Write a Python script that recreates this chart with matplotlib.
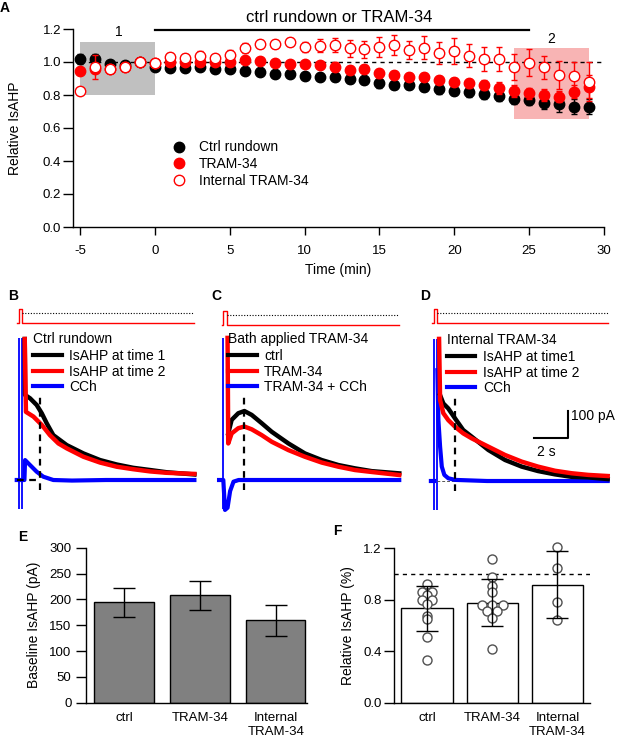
import numpy as np
import matplotlib.pyplot as plt
from matplotlib.lines import Line2D
from matplotlib.patches import Rectangle

plt.rcParams['font.family'] = ['Liberation Sans', 'DejaVu Sans']
plt.rcParams['axes.unicode_minus'] = False
plt.rcParams['axes.linewidth'] = 1.0

RED = '#ff0000'
BLUE = '#0000ff'

# ---------------- panel A: time course ----------------
minutes = list(range(-5, 30))
ctrl_mean = [1.02, 1.02, 0.99, 0.98, 1.00, 0.97, 0.966, 0.966, 0.97, 0.955, 0.96, 0.945,
             0.94, 0.927, 0.93, 0.915, 0.91, 0.91, 0.90, 0.89, 0.87, 0.86, 0.86, 0.85,
             0.835, 0.825, 0.82, 0.805, 0.795, 0.775, 0.77, 0.75, 0.745, 0.73, 0.73]
ctrl_err = [0.03, 0.03, 0.015, 0.01, 0.005, 0.015, 0.015, 0.015, 0.015, 0.018, 0.018, 0.018,
            0.02, 0.02, 0.02, 0.02, 0.022, 0.025, 0.025, 0.025, 0.025, 0.025, 0.025, 0.028,
            0.028, 0.028, 0.03, 0.03, 0.03, 0.032, 0.032, 0.035, 0.045, 0.045, 0.045]
tram_mean = [0.945, 0.955, 0.96, 0.97, 1.0, 0.995, 1.0, 1.0, 1.0, 1.0, 1.0, 1.015,
             1.005, 0.995, 0.99, 0.985, 0.98, 0.972, 0.952, 0.956, 0.931, 0.921, 0.911, 0.911,
             0.891, 0.881, 0.871, 0.861, 0.841, 0.824, 0.81, 0.80, 0.79, 0.82, 0.85]
tram_err = [0.02, 0.02, 0.015, 0.012, 0.005, 0.01, 0.012, 0.012, 0.012, 0.012, 0.015, 0.015,
            0.015, 0.015, 0.015, 0.015, 0.018, 0.025, 0.025, 0.025, 0.025, 0.025, 0.025, 0.025,
            0.025, 0.025, 0.028, 0.03, 0.035, 0.035, 0.035, 0.035, 0.035, 0.04, 0.07]
internal_mean = [0.824, 0.97, 0.96, 0.97, 1.0, 0.996, 1.032, 1.026, 1.038, 1.022, 1.042, 1.083,
                 1.109, 1.109, 1.12, 1.089, 1.10, 1.103, 1.083, 1.077, 1.093, 1.103, 1.073, 1.087,
                 1.053, 1.067, 1.038, 1.018, 1.018, 0.968, 0.996, 0.968, 0.921, 0.915, 0.881]
internal_err = [0.0, 0.073, 0.024, 0.022, 0.008, 0.008, 0.022, 0.024, 0.028, 0.022, 0.028, 0.03,
                0.027, 0.027, 0.024, 0.03, 0.04, 0.044, 0.05, 0.05, 0.06, 0.06, 0.055, 0.07,
                0.066, 0.08, 0.07, 0.07, 0.075, 0.08, 0.08, 0.07, 0.085, 0.085, 0.12]

# ---------------- panels B-D: example traces (s, pA) ----------------
B_black_t = [0.22, 0.24, 0.53, 0.92, 1.22, 1.51, 1.9, 2.69, 3.67, 4.65, 5.63, 6.6, 7.6, 8.57, 10.2]
B_black_i = [509, 307, 295, 271, 241, 205, 162, 126, 96, 72, 56, 44, 36, 28, 20]
B_red_t = [0.22, 0.29, 0.73, 1.22, 1.7, 2.2, 2.7, 3.67, 4.65, 5.63, 6.6, 7.6, 8.57, 10.2]
B_red_i = [509, 246, 229, 199, 162, 132, 114, 84, 63, 48, 39, 31, 26, 22]
B_blue_t = [-0.25, -0.13, 0.2, 0.24, 0.53, 0.92, 1.31, 1.9, 3.0, 5.0, 7.0, 10.2]
B_blue_i = [0, 0, 0, 72, 54, 30, 12, 0, -2, 0, 0, 0]

C_black_t = [0.19, 0.39, 0.78, 1.14, 1.57, 2.16, 2.75, 3.73, 4.7, 5.69, 6.67, 7.65, 8.63, 10.25]
C_black_i = [168, 217, 241, 249, 235, 205, 174, 132, 96, 72, 54, 42, 32, 24]
C_red_t = [0.15, 0.19, 0.39, 0.78, 1.14, 1.57, 2.16, 2.75, 3.73, 4.7, 5.69, 6.67, 7.65, 8.63, 10.25]
C_red_i = [513, 132, 168, 187, 193, 183, 162, 138, 108, 84, 63, 48, 36, 29, 18]
C_blue_t = [-0.35, -0.1, 0.0, 0.15, 0.3, 0.5, 0.8, 10.25]
C_blue_i = [0, 0, -108, -100, -40, -6, 0, 0]

D_black_t = [0.24, 0.43, 0.72, 1.12, 1.6, 2.1, 3.08, 4.06, 5.04, 6.0, 7.0, 7.98, 8.96, 10.1]
D_black_i = [310, 280, 262, 226, 184, 160, 112, 76, 52, 36, 24, 15, 13, 7]
D_red_t = [0.18, 0.24, 0.43, 0.72, 1.12, 1.6, 2.1, 3.08, 4.06, 5.04, 6.0, 7.0, 7.98, 8.96, 10.1]
D_red_i = [513, 292, 245, 220, 196, 172, 154, 124, 94, 70, 52, 37, 28, 22, 18]
D_blue_t = [-0.3, -0.12, np.nan, 0.08, 0.14, 0.24, 0.34, 0.49, 0.72, 1.12, 3.0, 10.1]
D_blue_i = [0, 0, np.nan, 400, 220, 124, 52, 22, 10, 4, 0, 0]

# stimulation artefacts (s) and their span (pA)
B_artifact_t = [-0.12, 0.06]
C_artifact_t = [-0.1]
D_artifact_t = [-0.12, 0.06]
artifact_span = (-105, 511)
measure_t = 1.12          # time of IsAHP measurement

# voltage step protocol (mV)
stim_t = {'B': [-0.24, -0.12, -0.12, 0.06, 0.06, 10.2],
          'C': [-0.18, -0.1, -0.1, 0.1, 0.1, 10.25],
          'D': [-0.24, -0.12, -0.12, 0.06, 0.06, 10.1]}
stim_v = [-50, -50, 20, 20, -50, -50]

# ---------------- panels E, F ----------------
groups = ['ctrl', 'TRAM-34', 'Internal\nTRAM-34']
baseline_mean = [194, 208, 160]
baseline_err = [28, 28, 30]
rel_mean = [0.733, 0.778, 0.917]
rel_err = [0.175, 0.18, 0.26]
rel_points = [
    [0.92, 0.86, 0.86, 0.84, 0.80, 0.80, 0.77, 0.67, 0.65, 0.51, 0.33],
    [1.12, 0.98, 0.91, 0.86, 0.76, 0.76, 0.76, 0.71, 0.71, 0.66, 0.42],
    [1.21, 1.05, 0.78, 0.64],
]

fig = plt.figure(figsize=(6.17, 7.39), dpi=100)
W, H = 617, 739


def px_axes(left, top, right, bottom):
    return fig.add_axes([left / W, 1 - bottom / H, (right - left) / W, (bottom - top) / H])


# ===== A =====
axA = px_axes(73, 29, 604, 227)
axA.add_patch(Rectangle((-5, 0.8), 5, 0.32, color='#c0c0c0', lw=0, zorder=0))
axA.add_patch(Rectangle((24, 0.655), 5, 0.43, color='#f8b4b4', lw=0, zorder=0))
axA.plot([-5, 30], [1, 1], color='k', lw=1, dashes=(3, 3), zorder=1)
axA.errorbar(minutes, ctrl_mean, yerr=ctrl_err, fmt='o', ms=7.5, color='k', mec='k',
             capsize=2.5, elinewidth=1, capthick=1, zorder=3, label='Ctrl rundown')
axA.errorbar(minutes, tram_mean, yerr=tram_err, fmt='o', ms=7.5, color=RED, mec=RED,
             capsize=2.5, elinewidth=1, capthick=1, zorder=4, label='TRAM-34')
axA.errorbar(minutes, internal_mean, yerr=internal_err, fmt='o', ms=7.5, color=RED, mfc='white',
             mec=RED, mew=1, capsize=2.5, elinewidth=1, capthick=1, zorder=5,
             label='Internal TRAM-34')
axA.plot([0, 25], [1.195, 1.195], color='k', lw=1.6, clip_on=False)
axA.text(12.3, 1.268, 'ctrl rundown or TRAM-34', ha='center', va='center', fontsize=12)
axA.text(-2.4, 1.18, '1', ha='center', va='center', fontsize=10)
axA.text(26.5, 1.14, '2', ha='center', va='center', fontsize=10)
axA.set_xlim(-5.47, 30)
axA.set_ylim(0, 1.2)
axA.set_xticks(range(-5, 31, 5))
axA.set_yticks(np.arange(0, 1.21, 0.2))
axA.set_yticklabels(['%.1f' % v for v in np.arange(0, 1.21, 0.2)])
axA.tick_params(direction='out', length=7, width=1, labelsize=9.5, pad=1.5)
axA.tick_params(axis='x', length=6, pad=7)
for s in ['top', 'right']:
    axA.spines[s].set_visible(False)
axA.set_xlabel('Time (min)', fontsize=10, labelpad=4)
axA.set_ylabel('Relative IsAHP', fontsize=10, labelpad=15)
hA = [Line2D([], [], ls='none', marker='o', ms=7.5, color='k'),
      Line2D([], [], ls='none', marker='o', ms=7.5, color=RED),
      Line2D([], [], ls='none', marker='o', ms=7.5, mfc='white', mec=RED, mew=1)]
axA.legend(hA, ['Ctrl rundown', 'TRAM-34', 'Internal TRAM-34'], loc='upper left',
           bbox_to_anchor=(1.25, 0.525), bbox_transform=axA.transData, frameon=False,
           fontsize=10, handlelength=0.8, handletextpad=1.0, labelspacing=0.2,
           borderpad=0, borderaxespad=0)

# ===== B, C, D =====
trace_ylim = (-115.5, 523.5)
trace_xlim = (-0.53, 10.53)
panels = [
    ('B', 12, 335, 326, 'Ctrl rundown', ['IsAHP at time 1', 'IsAHP at time 2', 'CCh'],
     (B_black_t, B_black_i), (B_red_t, B_red_i), (B_blue_t, B_blue_i), B_artifact_t, 0.112),
    ('C', 216, 335, 328, 'Bath applied TRAM-34', ['ctrl', 'TRAM-34', 'TRAM-34 + CCh'],
     (C_black_t, C_black_i), (C_red_t, C_red_i), (C_blue_t, C_blue_i), C_artifact_t, 0.064),
    ('D', 427, 336, 326, 'Internal TRAM-34', ['IsAHP at time1', 'IsAHP at time 2', 'CCh'],
     (D_black_t, D_black_i), (D_red_t, D_red_i), (D_blue_t, D_blue_i), D_artifact_t, 0.106),
]
for name, left, top, stim_bottom, title, labels, blk, red, blu, art, lx in panels:
    # step protocol
    axs = px_axes(left, stim_bottom - 23, left + 188, stim_bottom)
    axs.plot(stim_t[name], stim_v, color=RED, lw=1)
    axs.plot([stim_t[name][3], stim_t[name][-1]], [0, 0], color='k', lw=0.8, ls=(0, (1, 1.5)))
    axs.set_xlim(trace_xlim)
    axs.set_ylim(-65, 50)
    axs.axis('off')

    ax = px_axes(left, top, left + 188, top + 177)
    ax.vlines(art, artifact_span[0], artifact_span[1], color=BLUE, lw=1.3, zorder=2)
    ax.plot(blu[0], blu[1], color=BLUE, lw=3, zorder=3)
    ax.plot(blk[0], blk[1], color='k', lw=3.2, zorder=4)
    ax.plot(red[0], red[1], color=RED, lw=3.2, zorder=5)
    ax.plot([measure_t, measure_t], [-36, 298], color='k', lw=1.6, dashes=(3, 2.5), zorder=6)
    if name == 'B':
        ax.plot([-0.25, measure_t], [0, 0], color='k', lw=1.6, dashes=(3, 2.5), zorder=6)
    if name == 'D':
        ax.plot([-0.24, 10.1], [0, 0], color='#555555', lw=0.7, dashes=(3, 2), zorder=2.5)
        # scale bar: 2 s, 100 pA
        ax.plot([5.78, 7.78, 7.78], [154, 154, 254], color='k', lw=1.5, zorder=7)
        ax.text(7.95, 236, '100 pA', ha='left', va='center', fontsize=10)
        ax.text(6.5, 106, '2 s', ha='center', va='center', fontsize=10)
    ax.set_xlim(trace_xlim)
    ax.set_ylim(trace_ylim)
    ax.axis('off')
    handles = [Line2D([], [], color=c, lw=3) for c in ('k', RED, BLUE)]
    leg = ax.legend(handles, labels, title=title, alignment='left', loc='upper left',
                    bbox_to_anchor=(lx, 1.015), frameon=False, fontsize=10, title_fontsize=10,
                    handlelength=2.05, handletextpad=0.55, labelspacing=0.1,
                    borderpad=0, borderaxespad=0)
    leg._legend_box.sep = 2

# ===== E =====
xpos = np.arange(len(groups))
axE = px_axes(86, 547.7, 307, 702.7)
axE.bar(xpos, baseline_mean, width=0.78, color='#808080', edgecolor='k', lw=1, zorder=2)
axE.errorbar(xpos, baseline_mean, yerr=baseline_err, fmt='none', ecolor='k', elinewidth=1,
             capsize=8, capthick=1, zorder=3)
axE.set_xlim(-0.5, 2.41)
axE.set_ylim(0, 300)
axE.set_yticks(range(0, 301, 50))
axE.set_xticks(xpos)
axE.set_xticklabels(groups, linespacing=1.2)
axE.tick_params(axis='y', direction='out', length=7.5, width=1, labelsize=9.5, pad=3)
axE.tick_params(axis='x', length=0, labelsize=9.5, pad=7)
for s in ['top', 'right']:
    axE.spines[s].set_visible(False)
axE.set_ylabel('Baseline IsAHP (pA)', fontsize=10, labelpad=6)

# ===== F =====
axF = px_axes(394.3, 548.3, 590, 702.7)
axF.bar(xpos, rel_mean, width=0.785, color='white', edgecolor='k', lw=1, zorder=2)
axF.plot([-0.5, 2.5], [1, 1], color='k', lw=1, dashes=(3, 3), zorder=1)
spread = 0.16
for x0, pts in zip(xpos, rel_points):
    pts = np.array(pts)
    bins = np.round(pts / 0.02)
    offs = np.zeros(len(pts))
    for b in np.unique(bins):
        idx = np.where(bins == b)[0]
        offs[idx] = (np.arange(len(idx)) - (len(idx) - 1) / 2) * spread
    axF.plot(x0 + offs, pts, ls='none', marker='o', ms=6.5, mfc='white', mec='#505050',
             mew=1, zorder=3, clip_on=False)
axF.errorbar(xpos, rel_mean, yerr=rel_err, fmt='none', ecolor='k', elinewidth=1,
             capsize=8, capthick=1, zorder=4)
axF.set_xlim(-0.5, 2.5)
axF.set_ylim(0, 1.2)
axF.set_yticks([0, 0.4, 0.8, 1.2])
axF.set_yticklabels(['0.0', '0.4', '0.8', '1.2'])
axF.set_xticks(xpos)
axF.set_xticklabels(groups, linespacing=1.2)
axF.tick_params(axis='y', direction='out', length=7, width=1, labelsize=9.5, pad=2)
axF.tick_params(axis='x', length=0, labelsize=9.5, pad=7)
for s in ['top', 'right']:
    axF.spines[s].set_visible(False)
axF.set_ylabel('Relative IsAHP (%)', fontsize=10, labelpad=6)

# panel letters
for letter, x, y in [('A', 5, 8), ('B', 13, 296), ('C', 216, 296), ('D', 425, 296),
                     ('E', 23, 537), ('F', 337, 531)]:
    fig.text(x / W, 1 - y / H, letter, fontsize=10, fontweight='bold', ha='center', va='center')

fig.savefig('out.png', dpi=100)
